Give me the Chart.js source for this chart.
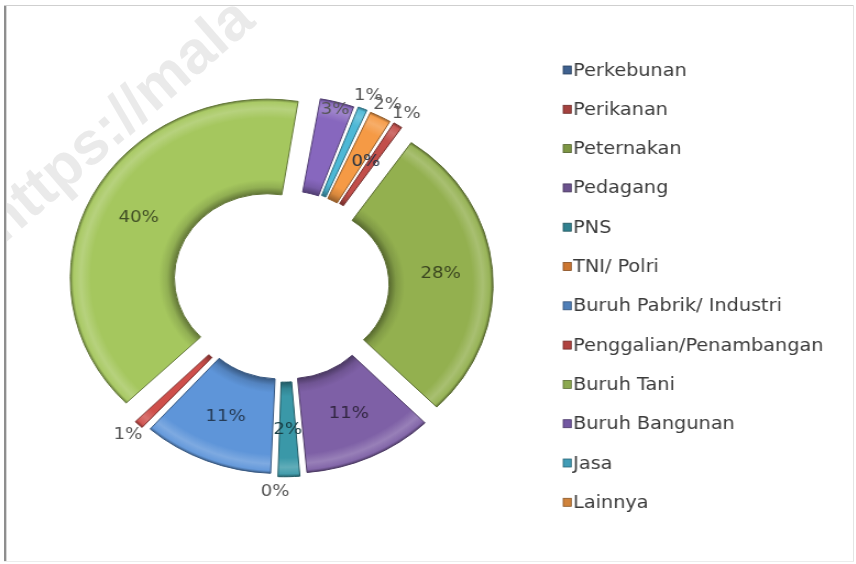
<!DOCTYPE html>
<html>
<head>
<meta charset="utf-8">
<script src="https://cdn.jsdelivr.net/npm/chart.js@4.4.0/dist/chart.umd.min.js"></script>
<style>
  html, body { margin: 0; padding: 0; background: #fff; }
  body { width: 856px; height: 564px; position: relative; overflow: hidden; }
  #wrap { position: absolute; left: 0; top: 0; width: 778px; height: 564px; transform: scaleX(1.1); transform-origin: 0 0; }
  .edge { position: absolute; }
  #wmclip { position: absolute; left: 7px; top: 6px; width: 846px; height: 555px; overflow: hidden; pointer-events: none; }
  #wm { position: absolute; left: 6px; top: 180px; font: bold 60px "Liberation Sans", sans-serif; color: rgba(150,150,150,0.2);
        transform: rotate(-41deg); transform-origin: 0 100%; white-space: nowrap; line-height: 70px; }
</style>
</head>
<body>
<div class="edge" style="left:4px;top:5px;width:2px;height:556px;background:#8e8e8e"></div>
<div class="edge" style="left:6px;top:5px;width:1px;height:556px;background:#d6d6d6"></div>
<div class="edge" style="left:4px;top:5px;width:850px;height:1px;background:#cfcfcf"></div>
<div class="edge" style="left:853px;top:5px;width:1px;height:556px;background:#e4e4e4"></div>
<div class="edge" style="left:4px;top:561px;width:850px;height:1px;background:#ececec"></div>

<div id="wrap"><canvas id="donut"></canvas></div>
<div id="wmclip"><div id="wm">https://mala</div></div>

<script>
// data
const labels = ["Perkebunan", "Perikanan", "Peternakan", "Pedagang", "PNS", "TNI/ Polri",
    "Buruh Pabrik/ Industri", "Penggalian/Penambangan", "Buruh Tani", "Buruh Bangunan", "Jasa", "Lainnya"];
const values = [0, 1, 28, 11, 2, 0, 11, 1, 40, 3, 1, 2];

// style
const sliceColors = ["#4A72A8", "#C24E4A", "#93B04F", "#7E60A6", "#3A98A8", "#F08B3A",
    "#5E95D9", "#CF4F4B", "#A5C75E", "#8767BE", "#4DB8D6", "#F59A45"];
const offsets = [40, 40, 72, 48, 40, 40, 48, 40, 68, 40, 40, 40];
const labelSide = ["in", "out", "in", "in", "in", "out", "in", "out", "in", "edge", "out", "out"];
const R_OUT = 172;
const CUT = 0.45;

function shade(hex, amt) {
    const n = parseInt(hex.slice(1), 16);
    const f = c => Math.round(amt < 0 ? c * (1 + amt) : c + (255 - c) * amt);
    return "rgb(" + f(n >> 16) + "," + f((n >> 8) & 255) + "," + f(n & 255) + ")";
}

// extra radius chart.js adds to exploded thin arcs
function growth(i) {
    const circ = values[i] / 100 * Math.PI * 2;
    return (1 - Math.sin(Math.min(Math.PI, circ))) * offsets[i] / 4;
}

function sliceFill(ctx) {
    const area = ctx.chart.chartArea;
    const c = sliceColors[ctx.dataIndex];
    if (!area) return c;
    const cx = (area.left + area.right) / 2;
    const cy = (area.top + area.bottom) / 2;
    const g0 = growth(ctx.dataIndex);
    const grad = ctx.chart.ctx.createRadialGradient(cx, cy, R_OUT * CUT + g0, cx, cy, R_OUT + g0);
    grad.addColorStop(0, shade(c, -0.4));
    grad.addColorStop(0.07, shade(c, -0.12));
    grad.addColorStop(0.15, c);
    grad.addColorStop(0.8, c);
    grad.addColorStop(0.9, shade(c, 0.2));
    grad.addColorStop(0.97, shade(c, 0.05));
    grad.addColorStop(1, shade(c, -0.35));
    return grad;
}

const sliceLabels = {
    id: "sliceLabels",
    afterDatasetsDraw(chart) {
        const ctx = chart.ctx;
        const meta = chart.getDatasetMeta(0);
        ctx.save();
        ctx.font = "16.5px 'DejaVu Sans'";
        ctx.textAlign = "center";
        ctx.textBaseline = "middle";
        meta.data.forEach((arc, i) => {
            const p = arc.getProps(["x", "y", "startAngle", "endAngle", "innerRadius", "outerRadius"], true);
            const mid = (p.startAngle + p.endAngle) / 2;
            const push = offsets[i] / 4 + growth(i);
            let r;
            if (labelSide[i] === "out") r = p.outerRadius + push + 14;
            else if (labelSide[i] === "edge") r = p.outerRadius + push - 8;
            else r = (p.innerRadius + p.outerRadius) / 2 + push;
            ctx.fillStyle = labelSide[i] === "in" ? shade(sliceColors[i], -0.6) : "#555555";
            ctx.fillText(values[i] + "%", p.x + Math.cos(mid) * r, p.y + Math.sin(mid) * r);
        });
        ctx.restore();
    }
};

const sideLegend = {
    id: "sideLegend",
    afterDraw(chart) {
        const ctx = chart.ctx;
        ctx.save();
        ctx.font = "17.5px 'DejaVu Sans'";
        ctx.textBaseline = "middle";
        labels.forEach((name, i) => {
            const y = 70 + i * 39.3;
            ctx.fillStyle = shade(sliceColors[i], -0.15);
            ctx.fillRect(512, y - 4, 7.3, 8);
            ctx.strokeStyle = shade(sliceColors[i], -0.45);
            ctx.lineWidth = 0.8;
            ctx.strokeRect(512, y - 4, 7.3, 8);
            ctx.fillStyle = "#3b3b3b";
            ctx.fillText(name, 521, y + 1);
        });
        ctx.restore();
    }
};

new Chart(document.getElementById("donut"), {
    type: "doughnut",
    data: {
        labels: labels,
        datasets: [{
            data: values,
            backgroundColor: sliceFill,
            borderColor: sliceColors.map(c => shade(c, -0.4)),
            borderWidth: 1,
            offset: offsets
        }]
    },
    options: {
        responsive: true,
        maintainAspectRatio: false,
        animation: false,
        rotation: 31,
        radius: R_OUT,
        cutout: (CUT * 100) + "%",
        layout: { padding: { left: 0, right: 262, top: 8, bottom: 0 } },
        plugins: {
            legend: { display: false },
            tooltip: { enabled: false }
        }
    },
    plugins: [sliceLabels, sideLegend]
});
</script>
</body>
</html>
